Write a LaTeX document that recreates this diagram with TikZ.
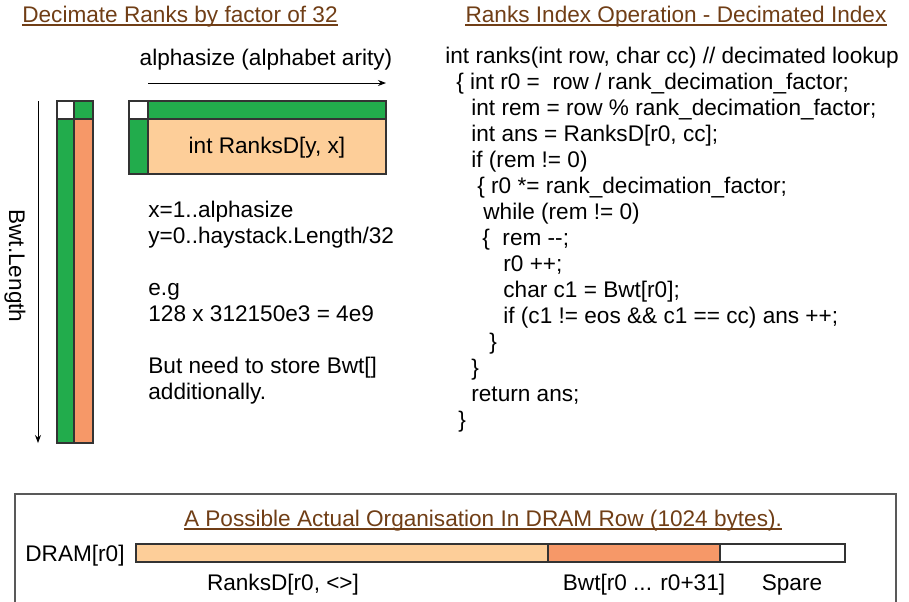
\documentclass[tikz,border=0pt]{standalone}
\usepackage{fontspec}
\setmainfont{Liberation Sans}
\usepackage{xcolor}
\usetikzlibrary{arrows.meta}

\definecolor{rkgreen}{RGB}{34,172,76}
\definecolor{rksalmon}{RGB}{246,152,104}
\definecolor{rkpeach}{RGB}{253,206,153}
\definecolor{rkbrown}{RGB}{112,62,22}

\tikzset{
  cell/.style={draw=black!80, line width=0.8pt},
  heading/.style={anchor=base, inner sep=0pt, text=rkbrown},
  uline/.style={draw=rkbrown, line width=0.6pt},
  plain/.style={inner sep=0pt}
}

\begin{document}
\begin{tikzpicture}[x=0.5pt, y=-0.5pt, >={Stealth[length=4pt,width=3pt]},
    every node/.style={font=\fontsize{11.3}{13}\selectfont}]
  \useasboundingbox (0,0) rectangle (909,601);

  % headings
  \node[heading] (dectitle) at (180,22) {Decimate Ranks by factor of 32};
  \node[heading] (optitle) at (676,22) {Ranks Index Operation - Decimated Index};
  \draw[uline] ([yshift=-1.5pt]dectitle.base west) -- ([yshift=-1.5pt]dectitle.base east);
  \draw[uline] ([yshift=-1.5pt]optitle.base west) -- ([yshift=-1.5pt]optitle.base east);

  % alphabet axis
  \node[plain, anchor=base] (alpha) at (266,65) {alphasize (alphabet arity)};
  \coordinate (alphaL) at (148,83);
  \coordinate (alphaR) at (386,83);
  \draw[->, line width=0.5pt] (alphaL) -- (alphaR);

  % Bwt columns
  \filldraw[cell, fill=white] (57,101) rectangle (74,119);
  \filldraw[cell, fill=rkgreen] (74,101) rectangle (93,119);
  \filldraw[cell, fill=rkgreen] (57,119) rectangle (74,443);
  \filldraw[cell, fill=rksalmon] (74,119) rectangle (93,443);
  \coordinate (bwtT) at (38,101);
  \coordinate (bwtB) at (38,443);
  \draw[->, line width=0.5pt] (bwtT) -- (bwtB);
  \node[plain, rotate=-90] (bwtlen) at (15,266) {Bwt.Length};

  % RanksD table
  \filldraw[cell, fill=white] (129,101) rectangle (148,119);
  \filldraw[cell, fill=rkgreen] (148,101) rectangle (386,119);
  \filldraw[cell, fill=rkgreen] (129,119) rectangle (148,174);
  \filldraw[cell, fill=rkpeach] (148,119) rectangle (386,174);
  \node[plain] (ranksd) at (267,148) {int RanksD[y, x]};

  % notes
  \node[plain, anchor=north west, align=left] (notes) at (148,200.5)
    {x=1..alphasize\\
     y=0..haystack.Length/32\\[13pt]
     e.g\\
     128 x 312150e3 = 4e9\\[13pt]
     But need to store Bwt[]\\
     additionally.};

  % lookup code
  \node[plain, anchor=north west, align=left] (code) at (445,47)
    {int ranks(int row, char cc) // decimated lookup\\
     \hspace*{5.5pt}\{ int r0 = \ row / rank\_decimation\_factor;\\
     \hspace*{13pt}int rem = row \% rank\_decimation\_factor;\\
     \hspace*{13pt}int ans = RanksD[r0, cc];\\
     \hspace*{13pt}if (rem != 0)\\
     \hspace*{16pt}\{ r0 *= rank\_decimation\_factor;\\
     \hspace*{19pt}while (rem != 0)\\
     \hspace*{18.5pt}\{ \ rem -{}-;\\
     \hspace*{29pt}r0 ++;\\
     \hspace*{29pt}char c1 = Bwt[r0];\\
     \hspace*{29pt}if (c1 != eos \&\& c1 == cc) ans ++;\\
     \hspace*{22pt}\}\\
     \hspace*{13pt}\}\\
     \hspace*{13pt}return ans;\\
     \hspace*{6.5pt}\}};

  % DRAM row panel
  \draw[draw=black!65, line width=0.8pt] (15,610) |- (896,494) -- (896,610);
  \node[heading] (dramtitle) at (483,526) {A Possible Actual Organisation In DRAM Row (1024 bytes).};
  \draw[uline] ([yshift=-1.5pt]dramtitle.base west) -- ([yshift=-1.5pt]dramtitle.base east);
  \node[plain, anchor=base east] (dramlbl) at (125,561) {DRAM[r0]};
  \filldraw[cell, fill=rkpeach] (136,544) rectangle (548,562);
  \filldraw[cell, fill=rksalmon] (548,544) rectangle (720,562);
  \filldraw[cell, fill=white] (720,544) rectangle (845,562);
  \node[plain, anchor=base] (rankpart) at (283,590) {RanksD[r0, <>]};
  \node[plain, anchor=base] (bwtpart) at (644,590) {Bwt[r0 ... r0+31]};
  \node[plain, anchor=base] (sparepart) at (792,590) {Spare};
\end{tikzpicture}
\end{document}
